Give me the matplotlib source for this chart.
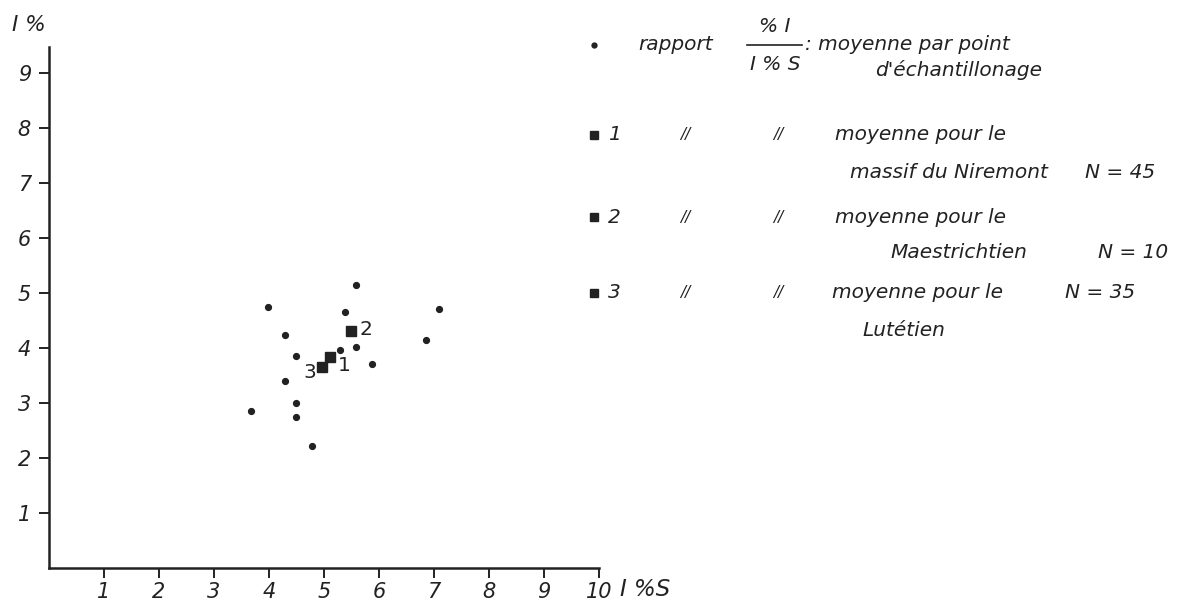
import matplotlib
matplotlib.use('Agg')
import matplotlib.pyplot as plt
from matplotlib.lines import Line2D

# points d'échantillonage : rapport %I / I%S
pts_x = [5.58, 3.99, 5.39, 7.09, 4.29, 6.85, 5.58, 5.29, 4.49, 5.88, 4.29, 4.49, 3.68, 4.49, 4.79]
pts_y = [5.15, 4.74, 4.65, 4.70, 4.24, 4.15, 4.01, 3.96, 3.85, 3.70, 3.40, 3.00, 2.85, 2.75, 2.22]

# moyennes (1 Niremont, 2 Maestrichtien, 3 Lutétien)
moy_x = [5.11, 5.49, 4.97]
moy_y = [3.84, 4.31, 3.66]
moy_lbl = ['1', '2', '3']
moy_off = [(10, -6), (11, 1), (-9, -4)]  # décalage des numéros en points

xticks = [1, 2, 3, 4, 5, 6, 7, 8, 9, 10]
yticks = [1, 2, 3, 4, 5, 6, 7, 8, 9]

W, H = 1177, 605
INK = '#222222'
FS = 14.5

def fx(px):
    return px / W

def fy(py):
    return 1 - py / H

fig = plt.figure(figsize=(W / 100, H / 100), dpi=100)
ax = fig.add_axes([fx(49), fy(568), (599 - 49) / W, (568 - 47) / H])

ax.plot(pts_x, pts_y, 'o', color=INK, markersize=4.2, linestyle='none')
ax.plot(moy_x, moy_y, 's', color=INK, markersize=6.5, linestyle='none')
for x, y, t, off in zip(moy_x, moy_y, moy_lbl, moy_off):
    ax.annotate(t, (x, y), xytext=off, textcoords='offset points',
                ha='center', va='center', fontsize=FS, color=INK)

ax.set_xlim(0, 10)
ax.set_ylim(0, 9.47)
ax.set_xticks(xticks)
ax.set_yticks(yticks)
ax.set_xticklabels([str(t) for t in xticks], fontstyle='italic', fontsize=FS + 0.5, color=INK)
ax.set_yticklabels([str(t) for t in yticks], fontstyle='italic', fontsize=FS + 0.5, color=INK)
ax.tick_params(direction='out', length=7, width=1.4, colors=INK, pad=3)
ax.tick_params(axis='y', pad=6)
for s in ['top', 'right']:
    ax.spines[s].set_visible(False)
for s in ['left', 'bottom']:
    ax.spines[s].set_linewidth(1.8)
    ax.spines[s].set_color(INK)

# titres des axes
fig.text(fx(12), fy(25), 'I %', fontsize=FS + 1, fontstyle='italic', color=INK, va='center', ha='left')
fig.text(fx(620), fy(590), 'I %S', fontsize=FS + 2, fontstyle='italic', color=INK, va='center', ha='left')

# légende
def txt(px, py, s, **kw):
    fig.text(fx(px), fy(py), s, fontsize=kw.pop('fs', FS), fontstyle='italic', color=INK,
             va='center', ha=kw.pop('ha', 'left'), **kw)

def mark(px, py, m, ms):
    fig.add_artist(Line2D([fx(px)], [fy(py)], marker=m, markersize=ms, color=INK,
                          linestyle='none', transform=fig.transFigure))

mark(594, 45, 'o', 3.5)
txt(638, 45, 'rapport')
txt(775, 27, '% I', ha='center')
fig.add_artist(Line2D([fx(747), fx(802)], [fy(45), fy(45)], color=INK, lw=1.2,
                      transform=fig.transFigure))
txt(775, 64, 'I % S', ha='center')
txt(805, 45, ': moyenne par point')
txt(875, 70, "d'échantillonage")

rows = [
    (135, '1', 'massif du Niremont', 850, 'N = 45', 1085, 172),
    (217, '2', 'Maestrichtien', 890, 'N = 10', 1098, 252),
]
for py, num, l2, x2, n, xn, py2 in rows:
    mark(594, py, 's', 5.5)
    txt(608, py, num)
    txt(680, py, '//', fs=11)
    txt(773, py, '//', fs=11)
    txt(835, py, 'moyenne pour le')
    txt(x2, py2, l2)
    txt(xn, py2, n)

mark(594, 293, 's', 5.5)
txt(608, 293, '3')
txt(680, 293, '//', fs=11)
txt(773, 293, '//', fs=11)
txt(832, 293, 'moyenne pour le')
txt(1065, 293, 'N = 35')
txt(862, 330, 'Lutétien')

fig.savefig('out.png', dpi=100, facecolor='white')
